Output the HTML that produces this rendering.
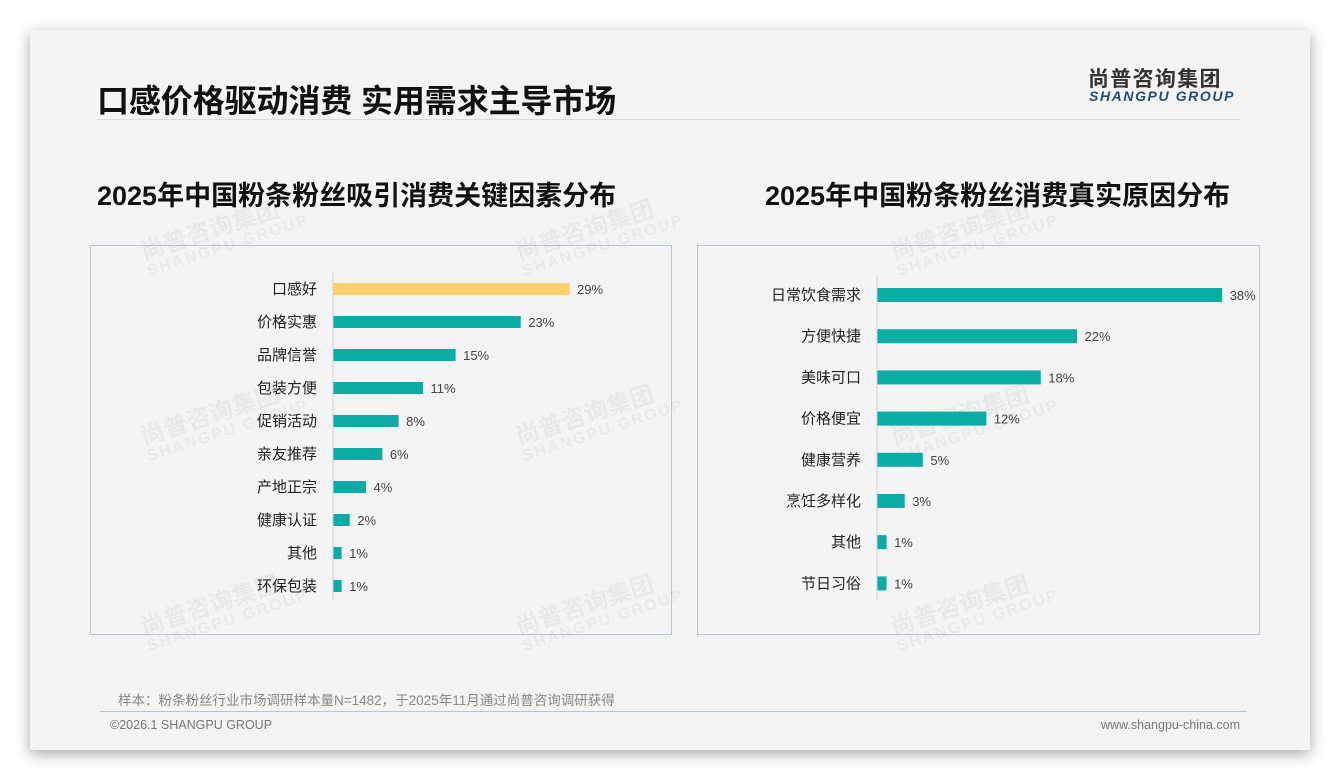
<!DOCTYPE html>
<html><head><meta charset="utf-8">
<style>
body{margin:0;width:1340px;height:780px;background:#fff;font-family:"Liberation Sans","Noto Sans CJK SC",sans-serif;position:relative;overflow:hidden}
.card{position:absolute;left:30px;top:30px;width:1280px;height:720px;background:#f4f4f4;box-shadow:0 4px 14px rgba(0,0,0,.35)}
.abs{position:absolute}
.wm{position:absolute;color:rgba(0,0,0,.045);font-weight:bold;transform:rotate(-18deg);line-height:1;white-space:nowrap}
</style></head><body>
<div class="card"></div>
<div class="abs" style="left:97px;top:76px;font-size:32px;font-weight:bold;color:#111;letter-spacing:-0.1px">口感价格驱动消费 实用需求主导市场</div>
<div class="abs" style="left:97px;top:119px;width:1143px;height:1px;background:#dcdcdc"></div>
<div class="abs" style="left:1088px;top:63px;font-size:21px;font-weight:bold;color:#333;letter-spacing:1.3px">尚普咨询集团</div>
<div class="abs" style="left:1089px;top:88px;font-size:14px;font-weight:bold;font-style:italic;color:#1f4e79;letter-spacing:1.6px">SHANGPU GROUP</div>
<div class="abs" style="left:97px;top:174px;font-size:27px;font-weight:bold;color:#111;letter-spacing:0px">2025年中国粉条粉丝吸引消费关键因素分布</div>
<div class="abs" style="left:765px;top:174px;font-size:27px;font-weight:bold;color:#111;letter-spacing:0px">2025年中国粉条粉丝消费真实原因分布</div>
<div class="abs" style="left:90px;top:245px;width:580px;height:388px;border:1px solid #b9c7d6"></div>
<div class="abs" style="left:697px;top:245px;width:561px;height:388px;border:1px solid #b9c7d6"></div>
<div id="wms"></div>
<svg class="abs" style="left:0;top:0" width="1340" height="780" id="charts"></svg>
<div class="abs" style="left:118px;top:689px;font-size:13.5px;color:#888">样本：粉条粉丝行业市场调研样本量N=1482，于2025年11月通过尚普咨询调研获得</div>
<div class="abs" style="left:100px;top:711px;width:1147px;height:1px;background:#b8c4d0"></div>
<div class="abs" style="left:110px;top:718px;font-size:12.5px;color:#777">©2026.1 SHANGPU GROUP</div>
<div class="abs" style="right:100px;top:718px;font-size:12.5px;color:#777">www.shangpu-china.com</div>
<script>
const leftCats=["口感好","价格实惠","品牌信誉","包装方便","促销活动","亲友推荐","产地正宗","健康认证","其他","环保包装"];
const leftVals=[29,23,15,11,8,6,4,2,1,1];
const rightCats=["日常饮食需求","方便快捷","美味可口","价格便宜","健康营养","烹饪多样化","其他","节日习俗"];
const rightVals=[38,22,18,12,5,3,1,1];
const NS="http://www.w3.org/2000/svg";
const svg=document.getElementById('charts');
function mk(t,a){const e=document.createElementNS(NS,t);for(const k in a)e.setAttribute(k,a[k]);svg.appendChild(e);return e;}
function chart(cats,vals,x0,pxPer,y0,step,bh,axTop,axBot,prefix,hl){
  const ax=mk('line',{x1:x0,x2:x0,y1:axTop,y2:axBot,stroke:'#d0d0d0','stroke-width':1});
  
  
  const xs=v=>x0+v*pxPer, ys=i=>y0+i*step;
  cats.forEach((c,i)=>{
    const y=ys(i);
    const r=mk('rect',{x:x0+0.5,y:y-bh/2,width:xs(vals[i])-x0,height:bh,fill:(i===hl?'#fdd06a':'#0aaca5')});
    
    
    const t=mk('text',{x:x0-16,y:y+5,'text-anchor':'end','font-size':15,fill:'#222'});t.textContent=c;
    
    
    const v=mk('text',{x:xs(vals[i])+8,y:y+5,'font-size':13,fill:'#444'});v.textContent=vals[i]+'%';
    
    
  });
}
chart(leftCats,leftVals,333,8.14,289,33,12,272,600,'left',0);
chart(rightCats,rightVals,877,9.07,295,41.2,14,275,600,'right',-1);
const wmPos=[[140,215],[515,215],[890,215],[140,400],[515,400],[890,400],[140,590],[515,590],[890,590]];
const w=document.getElementById('wms');
wmPos.forEach(p=>{const d=document.createElement('div');d.className='wm';d.style.left=p[0]+'px';d.style.top=p[1]+'px';
d.innerHTML='<div style="font-size:24px">尚普咨询集团</div><div style="font-size:16px;letter-spacing:2px">SHANGPU GROUP</div>';


w.appendChild(d);});
</script>
</body></html>
